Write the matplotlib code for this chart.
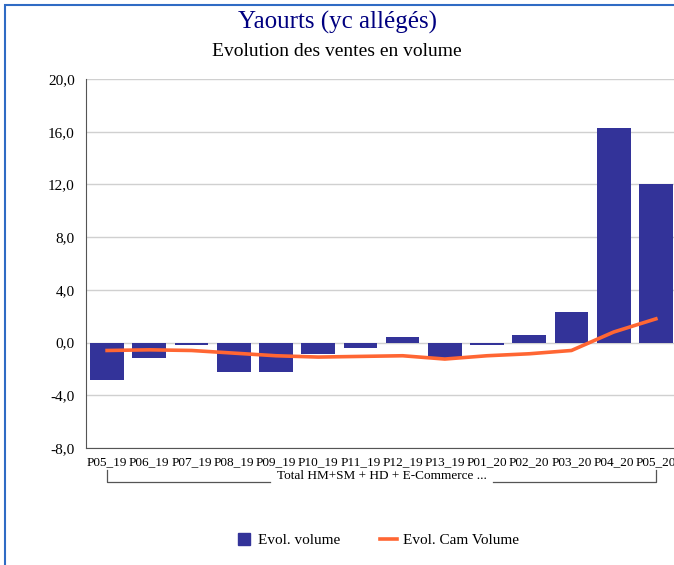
import numpy as np
import matplotlib.pyplot as plt
from matplotlib.patches import Rectangle
from matplotlib.lines import Line2D
import matplotlib.transforms as mtransforms

plt.rcParams['font.family'] = ['Liberation Serif', 'DejaVu Serif']

# data
periods = ['P05_19', 'P06_19', 'P07_19', 'P08_19', 'P09_19', 'P10_19', 'P11_19',
           'P12_19', 'P13_19', 'P01_20', 'P02_20', 'P03_20', 'P04_20', 'P05_20']
evol_volume = [-2.85, -1.2, -0.2, -2.2, -2.2, -0.9, -0.4,
               0.45, -1.15, -0.15, 0.55, 2.3, 16.3, 12.05]
evol_cam = [-0.6, -0.55, -0.6, -0.8, -1.0, -1.1, -1.05,
            -1.0, -1.25, -1.0, -0.85, -0.6, 0.8, 1.8]
yticks = [-8, -4, 0, 4, 8, 12, 16, 20]
group_label = 'Total HM+SM + HD + E-Commerce ...'

bar_color = '#333399'
line_color = '#ff6633'

fig = plt.figure(figsize=(6.74, 5.65), dpi=100)

# blue frame (the right/bottom edges fall outside the crop)
fig.patches.append(Rectangle((5 / 674, -0.05), 1.2, 1 - 5 / 565 + 0.05,
                             transform=fig.transFigure, fill=False,
                             edgecolor='#2f6bc4', linewidth=1.5))

ax = fig.add_axes([86 / 674, 1 - 448 / 565, 591 / 674, 369 / 565])

x = np.arange(len(periods))
ax.bar(x, evol_volume, width=0.8, color=bar_color, zorder=2)
ax.plot(x, evol_cam, color=line_color, linewidth=2.6, zorder=3)

ax.set_xlim(-0.5, len(periods) - 0.5)
ax.set_ylim(-8, 20)
ax.set_yticks(yticks)
ax.set_yticklabels([f'{v:.1f}'.replace('.', ',') for v in yticks], fontsize=11)
ax.set_xticks(x)
ax.set_xticklabels(periods, fontsize=9.5)
ax.tick_params(length=0, pad=6)
ax.tick_params(axis='y', pad=8)
ax.yaxis.grid(True, color='#d0d0d0', linewidth=1)
ax.set_axisbelow(True)
for s in ['top', 'right']:
    ax.spines[s].set_visible(False)
for s in ['left', 'bottom']:
    ax.spines[s].set_color('#555555')

# category group bracket under the tick labels, broken around its label
trans = mtransforms.blended_transform_factory(ax.transData, fig.transFigure)
y_top = 1 - 470 / 565
y_bot = 1 - 482 / 565
lbl = ax.text(6.5, 1 - 476 / 565, group_label, transform=trans, ha='center',
              va='center', fontsize=9.5)
fig.canvas.draw()
bb = lbl.get_window_extent().transformed(ax.transData.inverted())
gap = 0.15
ax.plot([0, 0, bb.x0 - gap], [y_top, y_bot, y_bot], transform=trans,
        color='#555555', linewidth=0.9, clip_on=False)
ax.plot([bb.x1 + gap, 13, 13], [y_bot, y_bot, y_top], transform=trans,
        color='#555555', linewidth=0.9, clip_on=False)

fig.text(0.5, 1 - 22 / 565, 'Yaourts (yc allégés)', ha='center', va='center',
         fontsize=18, color='#000080')
fig.text(0.5, 1 - 52 / 565, 'Evolution des ventes en volume', ha='center',
         va='center', fontsize=14)

handles = [Line2D([], [], marker='s', markersize=9, linestyle='none',
                  color=bar_color),
           Line2D([], [], color=line_color, linewidth=2.6)]
fig.legend(handles, ['Evol. volume', 'Evol. Cam Volume'], loc='center',
           bbox_to_anchor=(377 / 674, 1 - 540 / 565), ncol=2, frameon=False,
           fontsize=11, columnspacing=2.6, handlelength=1.1, handletextpad=0.4)

fig.savefig('out.png', dpi=100)
